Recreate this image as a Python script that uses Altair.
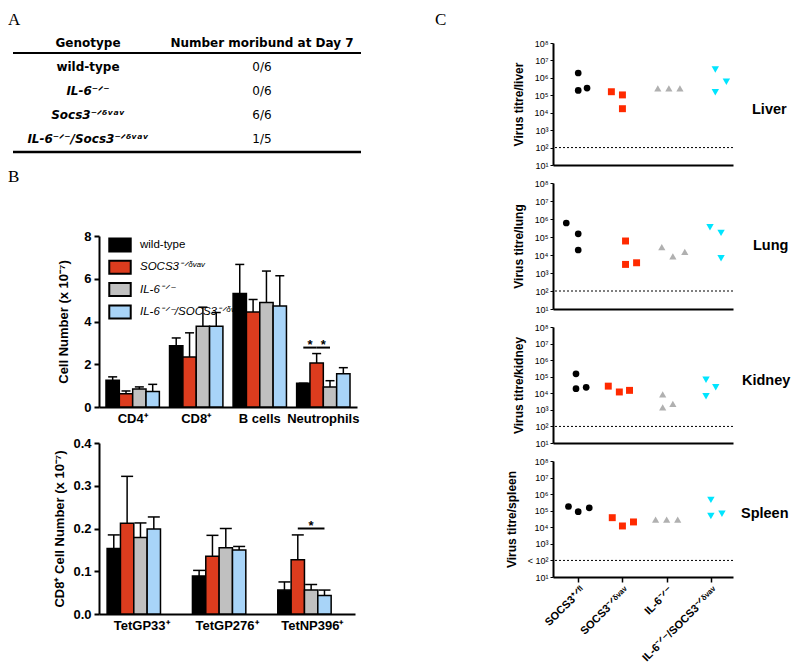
import altair as alt
import pandas as pd

FONT = "Liberation Sans"
TFONT = "DejaVu Sans"
SERIF = "Liberation Serif"

# ---------------- Panel A : table ----------------
table_header = ["Genotype", "Number moribund at Day 7"]
table_genotypes = ["wild-type", "IL-6⁻ᐟ⁻", "Socs3⁻ᐟᵟᵛᵃᵛ", "IL-6⁻ᐟ⁻/Socs3⁻ᐟᵟᵛᵃᵛ"]
table_moribund = ["0/6", "0/6", "6/6", "1/5"]
table_is_gene = [False, True, True, True]

# ---------------- Panel B : bars ----------------
genotypes_b = ["wild-type", "SOCS3⁻ᐟᵟᵛᵃᵛ", "IL-6⁻ᐟ⁻", "IL-6⁻ᐟ⁻/SOCS3⁻ᐟᵟᵛᵃᵛ"]
bar_colors = ["#000000", "#dc3c1e", "#c0c0c0", "#a8d4f8"]

cells_top = ["CD4⁺", "CD8⁺", "B cells", "Neutrophils"]
top_wt_mean = [1.25, 2.87, 5.31, 1.11]
top_wt_err = [0.16, 0.36, 1.36, 0.0]
top_socs_mean = [0.62, 2.34, 4.45, 2.06]
top_socs_err = [0.13, 1.13, 0.58, 0.44]
top_il6_mean = [0.84, 3.78, 4.89, 0.94]
top_il6_err = [0.10, 0.89, 1.47, 0.29]
top_dko_mean = [0.72, 3.78, 4.73, 1.56]
top_dko_err = [0.34, 0.64, 1.41, 0.28]
top_sig_cell = "Neutrophils"
top_sig_pairs = [(0, 1), (1, 2)]
top_sig_level = 2.78

tets = ["TetGP33⁺", "TetGP276⁺", "TetNP396⁺"]
bot_wt_mean = [0.153, 0.089, 0.056]
bot_wt_err = [0.032, 0.013, 0.019]
bot_socs_mean = [0.212, 0.135, 0.127]
bot_socs_err = [0.110, 0.049, 0.058]
bot_il6_mean = [0.179, 0.155, 0.056]
bot_il6_err = [0.034, 0.045, 0.013]
bot_dko_mean = [0.199, 0.150, 0.043]
bot_dko_err = [0.028, 0.008, 0.013]
bot_sig_cell = "TetNP396⁺"
bot_sig_pairs = [(1, 3)]
bot_sig_level = 0.2

# ---------------- Panel C : virus titres ----------------
c_groups = ["SOCS3⁺ᐟᶠˡ", "SOCS3⁻ᐟᵟᵛᵃᵛ", "IL-6⁻ᐟ⁻", "IL-6⁻ᐟ⁻/SOCS3⁻ᐟᵟᵛᵃᵛ"]
c_colors = ["#000000", "#ff2a00", "#b0b0b0", "#00e5ff"]
c_shapes = ["circle", "square", "triangle-up", "triangle-down"]
c_sizes = [45, 55, 40, 55]

liver_titres = [[1.9e6, 1.9e5, 2.6e5], [1.6e5, 1.05e5, 1.7e4], [2.5e5, 2.5e5, 2.5e5], [3.0e6, 6.0e5, 1.5e5]]
liver_jitter = [[0, 0, 0.2], [-0.25, 0, 0], [-0.2, 0.05, 0.3], [0.1, 0.35, 0.1]]
lung_titres = [[6e5, 1.5e5, 1.9e4], [6e4, 3e3, 3.7e3], [2.7e4, 8.5e3, 1.5e4], [3.5e5, 1.7e5, 6.6e3]]
lung_jitter = [[-0.27, 0, 0], [0.07, 0.07, 0.32], [-0.11, 0.14, 0.41], [-0.02, 0.23, 0.23]]
kidney_titres = [[1.5e5, 1.9e4, 2.3e4], [2.7e4, 1.2e4, 1.5e4], [8.7e3, 1.4e3, 2.3e3], [6.6e4, 2.3e4, 6.6e3]]
kidney_jitter = [[-0.05, -0.05, 0.18], [-0.32, -0.07, 0.16], [-0.09, -0.09, 0.14], [-0.11, 0.11, -0.11]]
spleen_titres = [[1.8e5, 8.7e4, 1.5e5], [3.8e4, 1.2e4, 2.1e4], [2.9e4, 2.9e4, 2.9e4], [4.5e5, 4.8e4, 6.6e4]]
spleen_jitter = [[-0.22, 0, 0.25], [-0.23, 0, 0.25], [-0.25, 0, 0.25], [0, 0, 0.25]]
detection_limit = 100
titre_ticks = [10, 100, 1e3, 1e4, 1e5, 1e6, 1e7, 1e8]


def one():
    return pd.DataFrame({"a": [0]})


def letter(t, x, y):
    return alt.Chart(pd.DataFrame({"t": [t]})).mark_text(
        font=SERIF, fontSize=17, align="left", baseline="alphabetic", color="black"
    ).encode(text="t:N", x=alt.value(x), y=alt.value(y))


# ---------- Panel A chart ----------
A_W, A_H = 258, 157
row_scale = alt.Scale(domain=[0, A_H / 24], range=[0, A_H])
col_scale = alt.Scale(domain=[0, 1], range=[-11, 163])
head_df = pd.DataFrame({"col": [0, 1], "row": [0, 0], "t": table_header})
body_df = pd.DataFrame({"row": [1, 2, 3, 4], "geno": table_genotypes,
                        "val": table_moribund, "gene": table_is_gene})

ty = alt.Y("row:Q", scale=row_scale, axis=None)
head = alt.Chart(head_df).mark_text(font=TFONT, fontSize=12, fontWeight="bold", baseline="middle", color="black").encode(
    x=alt.X("col:Q", scale=col_scale, axis=None), y=ty, text="t:N")
g_plain = alt.Chart(body_df).transform_filter("!datum.gene").mark_text(
    font=TFONT, fontSize=12, fontWeight="bold", baseline="middle", color="black").encode(
    x=alt.value(-11), y=ty, text="geno:N")
g_ital = alt.Chart(body_df).transform_filter("datum.gene").mark_text(
    font=TFONT, fontSize=12, fontWeight="bold", fontStyle="italic", baseline="middle", color="black").encode(
    x=alt.value(-11), y=ty, text="geno:N")
vals = alt.Chart(body_df).mark_text(font=TFONT, fontSize=12, baseline="middle", color="black").encode(
    x=alt.value(163), y=ty, text="val:N")
line_top = alt.Chart(one()).mark_rule(color="black", strokeWidth=2).encode(
    x=alt.value(-86), x2=alt.value(262), y=alt.value(10))
line_bot = alt.Chart(one()).mark_rule(color="black", strokeWidth=2.5).encode(
    x=alt.value(-86), x2=alt.value(262), y=alt.value(109))
panelA = alt.layer(head, g_plain, g_ital, vals, line_top, line_bot,
                   letter("A", -91, -17.75), letter("B", -91, 139)).properties(width=A_W, height=A_H)


# ---------- Panel B charts ----------
def bar_panel(cats, means, errs, ymax, yvals, yfmt, ytitle, w, h, pin, pout, cap,
              tpad, sig_cell, sig_pairs, sig_level, star_dx, legend):
    rows = []
    for gi, g in enumerate(genotypes_b):
        for ci, c in enumerate(cats):
            rows.append({"cat": c, "geno": g, "mean": means[gi][ci], "top": means[gi][ci] + errs[gi][ci]})
    df = pd.DataFrame(rows)
    xaxis = alt.Axis(title=None, ticks=False, labelAngle=0, labelFont=FONT, labelFontSize=13,
                     labelFontWeight="bold", labelPadding=5, domainWidth=2, domainColor="black",
                     labelColor="black", grid=False)
    x = alt.X("cat:N", sort=cats, scale=alt.Scale(paddingInner=pin, paddingOuter=pout), axis=xaxis)
    xo = alt.XOffset("geno:N", sort=genotypes_b, scale=alt.Scale(paddingInner=0, paddingOuter=0))
    yaxis = alt.Axis(values=yvals, format=yfmt, title=ytitle, titleFont=FONT, titleFontSize=13,
                     titleFontWeight="bold", titlePadding=tpad, labelFont=FONT, labelFontSize=13,
                     labelFontWeight="bold", labelPadding=3, tickSize=5, tickWidth=2, domainWidth=2,
                     domainColor="black", tickColor="black", labelColor="black", titleColor="black",
                     grid=False)
    y = alt.Y("mean:Q", scale=alt.Scale(domain=[0, ymax], nice=False), axis=yaxis)
    if legend:
        leg = alt.Legend(title=None, orient="none", legendX=13.5, legendY=1.5, padding=0,
                         symbolType="M-1.65,-1H1.65V1H-1.65Z", symbolSize=169,
                         symbolStrokeColor="black", symbolStrokeWidth=2, symbolOpacity=1,
                         labelFont=FONT, labelFontSize=11.5, labelOffset=12.5, rowPadding=1.3,
                         labelColor="black",
                         labelFontStyle={"expr": "datum.label == 'wild-type' ? 'normal' : 'italic'"})
    else:
        leg = None
    color = alt.Color("geno:N", sort=genotypes_b,
                      scale=alt.Scale(domain=genotypes_b, range=bar_colors), legend=leg)
    base = alt.Chart(df)
    bars = base.mark_bar(stroke="black", strokeWidth=1.5, opacity=1).encode(x=x, xOffset=xo, y=y, color=color)
    rule = base.mark_rule(color="black", strokeWidth=1.5).encode(x=x, xOffset=xo, y="mean:Q", y2="top:Q")
    capm = base.mark_tick(color="black", thickness=1.5, size=cap, opacity=1).encode(x=x, xOffset=xo, y="top:Q")
    srows = []
    for pi, (a, b) in enumerate(sig_pairs):
        srows.append({"cat": sig_cell, "geno": genotypes_b[a], "y": sig_level, "pair": pi})
        srows.append({"cat": sig_cell, "geno": genotypes_b[b], "y": sig_level, "pair": pi})
    sdf = pd.DataFrame(srows)
    slines = alt.Chart(sdf).mark_line(color="black", strokeWidth=2).encode(
        x=x, xOffset=xo, y="y:Q", detail="pair:N")
    star_rows = []
    for (a, b) in sig_pairs:
        mid = (a + b) // 2
        star_rows.append({"cat": sig_cell, "geno": genotypes_b[mid], "y": sig_level})
    stars = alt.Chart(pd.DataFrame(star_rows)).mark_text(
        text="*", font=FONT, fontSize=13, fontWeight="bold", baseline="alphabetic", dx=star_dx, dy=1,
        color="black").encode(x=x, xOffset=xo, y="y:Q")
    return alt.layer(bars, rule, capm, slines, stars).properties(width=w, height=h)


top_means = [top_wt_mean, top_socs_mean, top_il6_mean, top_dko_mean]
top_errs = [top_wt_err, top_socs_err, top_il6_err, top_dko_err]
bot_means = [bot_wt_mean, bot_socs_mean, bot_il6_mean, bot_dko_mean]
bot_errs = [bot_wt_err, bot_socs_err, bot_il6_err, bot_dko_err]

panelB1 = bar_panel(cells_top, top_means, top_errs, 8, [0, 2, 4, 6, 8], "d", "Cell Number (x 10⁻⁷)",
                    258, 171, 0.16, 0.11, 9, 13, top_sig_cell, top_sig_pairs, top_sig_level, 6.75, True)
panelB2 = bar_panel(tets, bot_means, bot_errs, 0.4, [0, 0.1, 0.2, 0.3, 0.4], ".1f",
                    "CD8⁺ Cell Number (x 10⁻⁷)", 256, 171, 0.19, 0.095, 12, 6,
                    bot_sig_cell, bot_sig_pairs, bot_sig_level, 0, False)


# ---------- Panel C charts ----------
def organ_chart(title, titres, jitter, h, label, lx, ly, bottom=False, with_letter=False):
    rows = []
    for gi, g in enumerate(c_groups):
        for v, j in zip(titres[gi], jitter[gi]):
            rows.append({"g": g, "x": gi + j, "v": v})
    df = pd.DataFrame(rows)
    if bottom:
        names = ",".join("'" + g + "'" for g in c_groups)
        xaxis = alt.Axis(values=[0, 1, 2, 3], labelExpr="[" + names + "][round(datum.value)]",
                         labelAngle=315, title=None, labelFont=FONT, labelFontSize=11,
                         labelFontWeight="bold", tickSize=5, tickWidth=1.5, domainWidth=2,
                         labelPadding=2, domainColor="black", tickColor="black", labelColor="black",
                         labelOverlap=False, labelBound=False, labelFlush=False, grid=False)
    else:
        xaxis = alt.Axis(labels=False, ticks=False, title=None, domainWidth=2, domainColor="black",
                         grid=False)
    sup = ["", "10¹", "10²", "10³", "10⁴", "10⁵", "10⁶", "10⁷", "10⁸"]
    if bottom:
        sup[2] = "< 10²"
    lab_expr = "[" + ",".join("'" + s + "'" for s in sup) + "][round(log(datum.value)/LN10)]"
    yaxis = alt.Axis(values=titre_ticks, labelExpr=lab_expr, title=title, titleFont=FONT,
                     titleFontSize=12, titleFontWeight="bold", titlePadding=9, labelFont=FONT,
                     labelFontSize=9, tickSize=3, tickWidth=1, domainWidth=2, labelPadding=2,
                     domainColor="black", tickColor="black", labelColor="black", titleColor="black",
                     labelOverlap=False, grid=False)
    pts = alt.Chart(df).mark_point(filled=True, opacity=1).encode(
        x=alt.X("x:Q", scale=alt.Scale(domain=[-0.57, 3.5], nice=False, zero=False), axis=xaxis),
        y=alt.Y("v:Q", scale=alt.Scale(type="log", domain=[10, 1e8], nice=False), axis=yaxis),
        color=alt.Color("g:N", scale=alt.Scale(domain=c_groups, range=c_colors), legend=None),
        shape=alt.Shape("g:N", scale=alt.Scale(domain=c_groups, range=c_shapes), legend=None),
        size=alt.Size("g:O", scale=alt.Scale(domain=c_groups, range=c_sizes), legend=None))
    lim = alt.Chart(pd.DataFrame({"lim": [detection_limit]})).mark_rule(
        strokeDash=[2, 2], strokeWidth=1, color="black").encode(y="lim:Q")
    lab = alt.Chart(pd.DataFrame({"t": [label]})).mark_text(
        font=FONT, fontSize=14.5, fontWeight="bold", align="left", baseline="middle", color="black").encode(
        text="t:N", x=alt.value(lx), y=alt.value(ly))
    layers = [lim, pts, lab]
    if with_letter:
        layers.append(letter("C", -118, -17.75))
    return alt.layer(*layers).properties(width=180, height=h)


liver = organ_chart("Virus titre/liver", liver_titres, liver_jitter, 122, "Liver", 199, 67, with_letter=True)
lung = organ_chart("Virus titre/lung", lung_titres, lung_jitter, 126, "Lung", 200, 63)
kidney = organ_chart("Virus titre/kidney", kidney_titres, kidney_jitter, 116, "Kidney", 189, 54)
spleen = organ_chart("Virus titre/spleen", spleen_titres, spleen_jitter, 116, "Spleen", 188, 53, bottom=True)

left = alt.vconcat(panelA, panelB1, panelB2, spacing=36, bounds="flush").resolve_scale(color="independent")
right = alt.vconcat(liver, lung, kidney, spleen, spacing=18, bounds="flush")

chart = alt.hconcat(left, right, spacing=454, bounds="flush").properties(
    padding={"top": 3, "left": 0, "right": 0, "bottom": 0}).configure(
    font=FONT).configure_view(stroke=None).configure_axis(grid=False)

chart.save("out.html", embed_options={"renderer": "svg", "actions": False})
